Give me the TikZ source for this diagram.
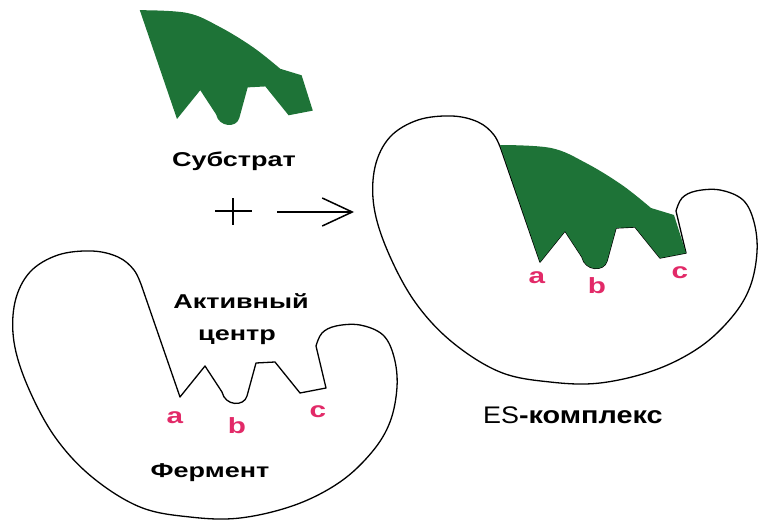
\documentclass[tikz,border=0pt]{standalone}
\usepackage{fontspec}
\setmainfont{Liberation Sans}
\newfontfamily\lblfont{Liberation Sans Bold}[FakeStretch=1.35]
\newfontfamily\esreg{Liberation Sans}[FakeStretch=1.12]
\newfontfamily\esbold{Liberation Sans Bold}[FakeStretch=1.2]
\usetikzlibrary{arrows.meta}
\definecolor{subgreen}{RGB}{30,115,55}
\definecolor{sitepink}{RGB}{226,42,104}

\tikzset{
  x=1pt, y=-1pt,
  outline/.style={draw=black, line width=1.3pt, line join=round},
  lbl/.style={font=\lblfont\fontsize{20}{24}\selectfont, inner sep=0pt, anchor=base},
  site/.style={font=\lblfont\fontsize{22}{26}\selectfont, text=sitepink, inner sep=0pt, anchor=base},
  % enzyme body; origin at the tip of binding site a
  pics/enzyme/.style={code={
    \path[outline] (0,0) -- (25,-31) -- (42,-5)
      .. controls (45,9) and (64,10) .. (67,-1)
      -- (76,-34) -- (95,-35) -- (120,-4) -- (146,-9) -- (136,-51)
      -- plot[smooth, tension=0.6] coordinates {
        (136,-51) (142,-64) (156,-71) (180,-72) (203,-62) (214,-40)
        (217,-10) (210,25) (192,55) (160,85) (115,108) (60,121)
        (10,120) (-40,110) (-88,80) (-125,40) (-152,-10) (-166,-55)
        (-165,-95) (-150,-125) (-122,-142) (-88,-146) (-62,-140)
        (-46,-127) (-38,-110)}
      -- cycle;
  }},
  % substrate molecule; same origin as the enzyme
  pics/substrate/.style={code={
    \fill[subgreen] (0,0) -- (25,-31) -- (42,-5)
      .. controls (45,9) and (64,10) .. (67,-1)
      -- (76,-34) -- (95,-35) -- (120,-4) -- (146,-9) -- (134,-47)
      -- (111,-54)
      -- plot[smooth, tension=0.6] coordinates {
        (111,-54) (82,-77) (46,-99) (11,-114) (-40,-117)}
      -- cycle;
  }}
}

\begin{document}
\begin{tikzpicture}
\useasboundingbox (0,0) rectangle (758,524);

% free substrate
\pic[scale=0.93] at (177,119) {substrate};
\node[lbl] (substr) at (234,167) {Субстрат};

% plus sign and reaction arrow
\coordinate (pl) at (215,211);
\coordinate (pr) at (252,211);
\coordinate (pt) at (233,198);
\coordinate (pb) at (233,225);
\draw[line width=1.6pt] (pl) -- (pr) (pt) -- (pb);
\coordinate (arrS) at (277,212);
\coordinate (arrE) at (354,212);
\draw[line width=1.5pt, -{Straight Barb[length=30pt, width=28pt, line width=1.5pt]}] (arrS) -- (arrE);

% free enzyme
\pic at (180,397) {enzyme};
\node[lbl] (act1) at (241,308) {Активный};
\node[lbl] (act2) at (237,340) {центр};
\node[lbl] (ferm) at (210,477) {Фермент};
\node[site] (fa) at (175,423) {a};
\node[site] (fb) at (237,433) {b};
\node[site] (fc) at (318,417) {c};

% enzyme-substrate complex
\pic at (540,262) {enzyme};
\pic at (540,262) {substrate};
\node[site] (ea) at (537,283) {a};
\node[site] (eb) at (597,293) {b};
\node[site] (ec) at (680,278) {c};
\node[inner sep=0pt, anchor=base west] (es) at (483,423)
  {\fontsize{24}{28}\selectfont{\esreg ES}{\esbold -комплекс}};
\end{tikzpicture}
\end{document}
